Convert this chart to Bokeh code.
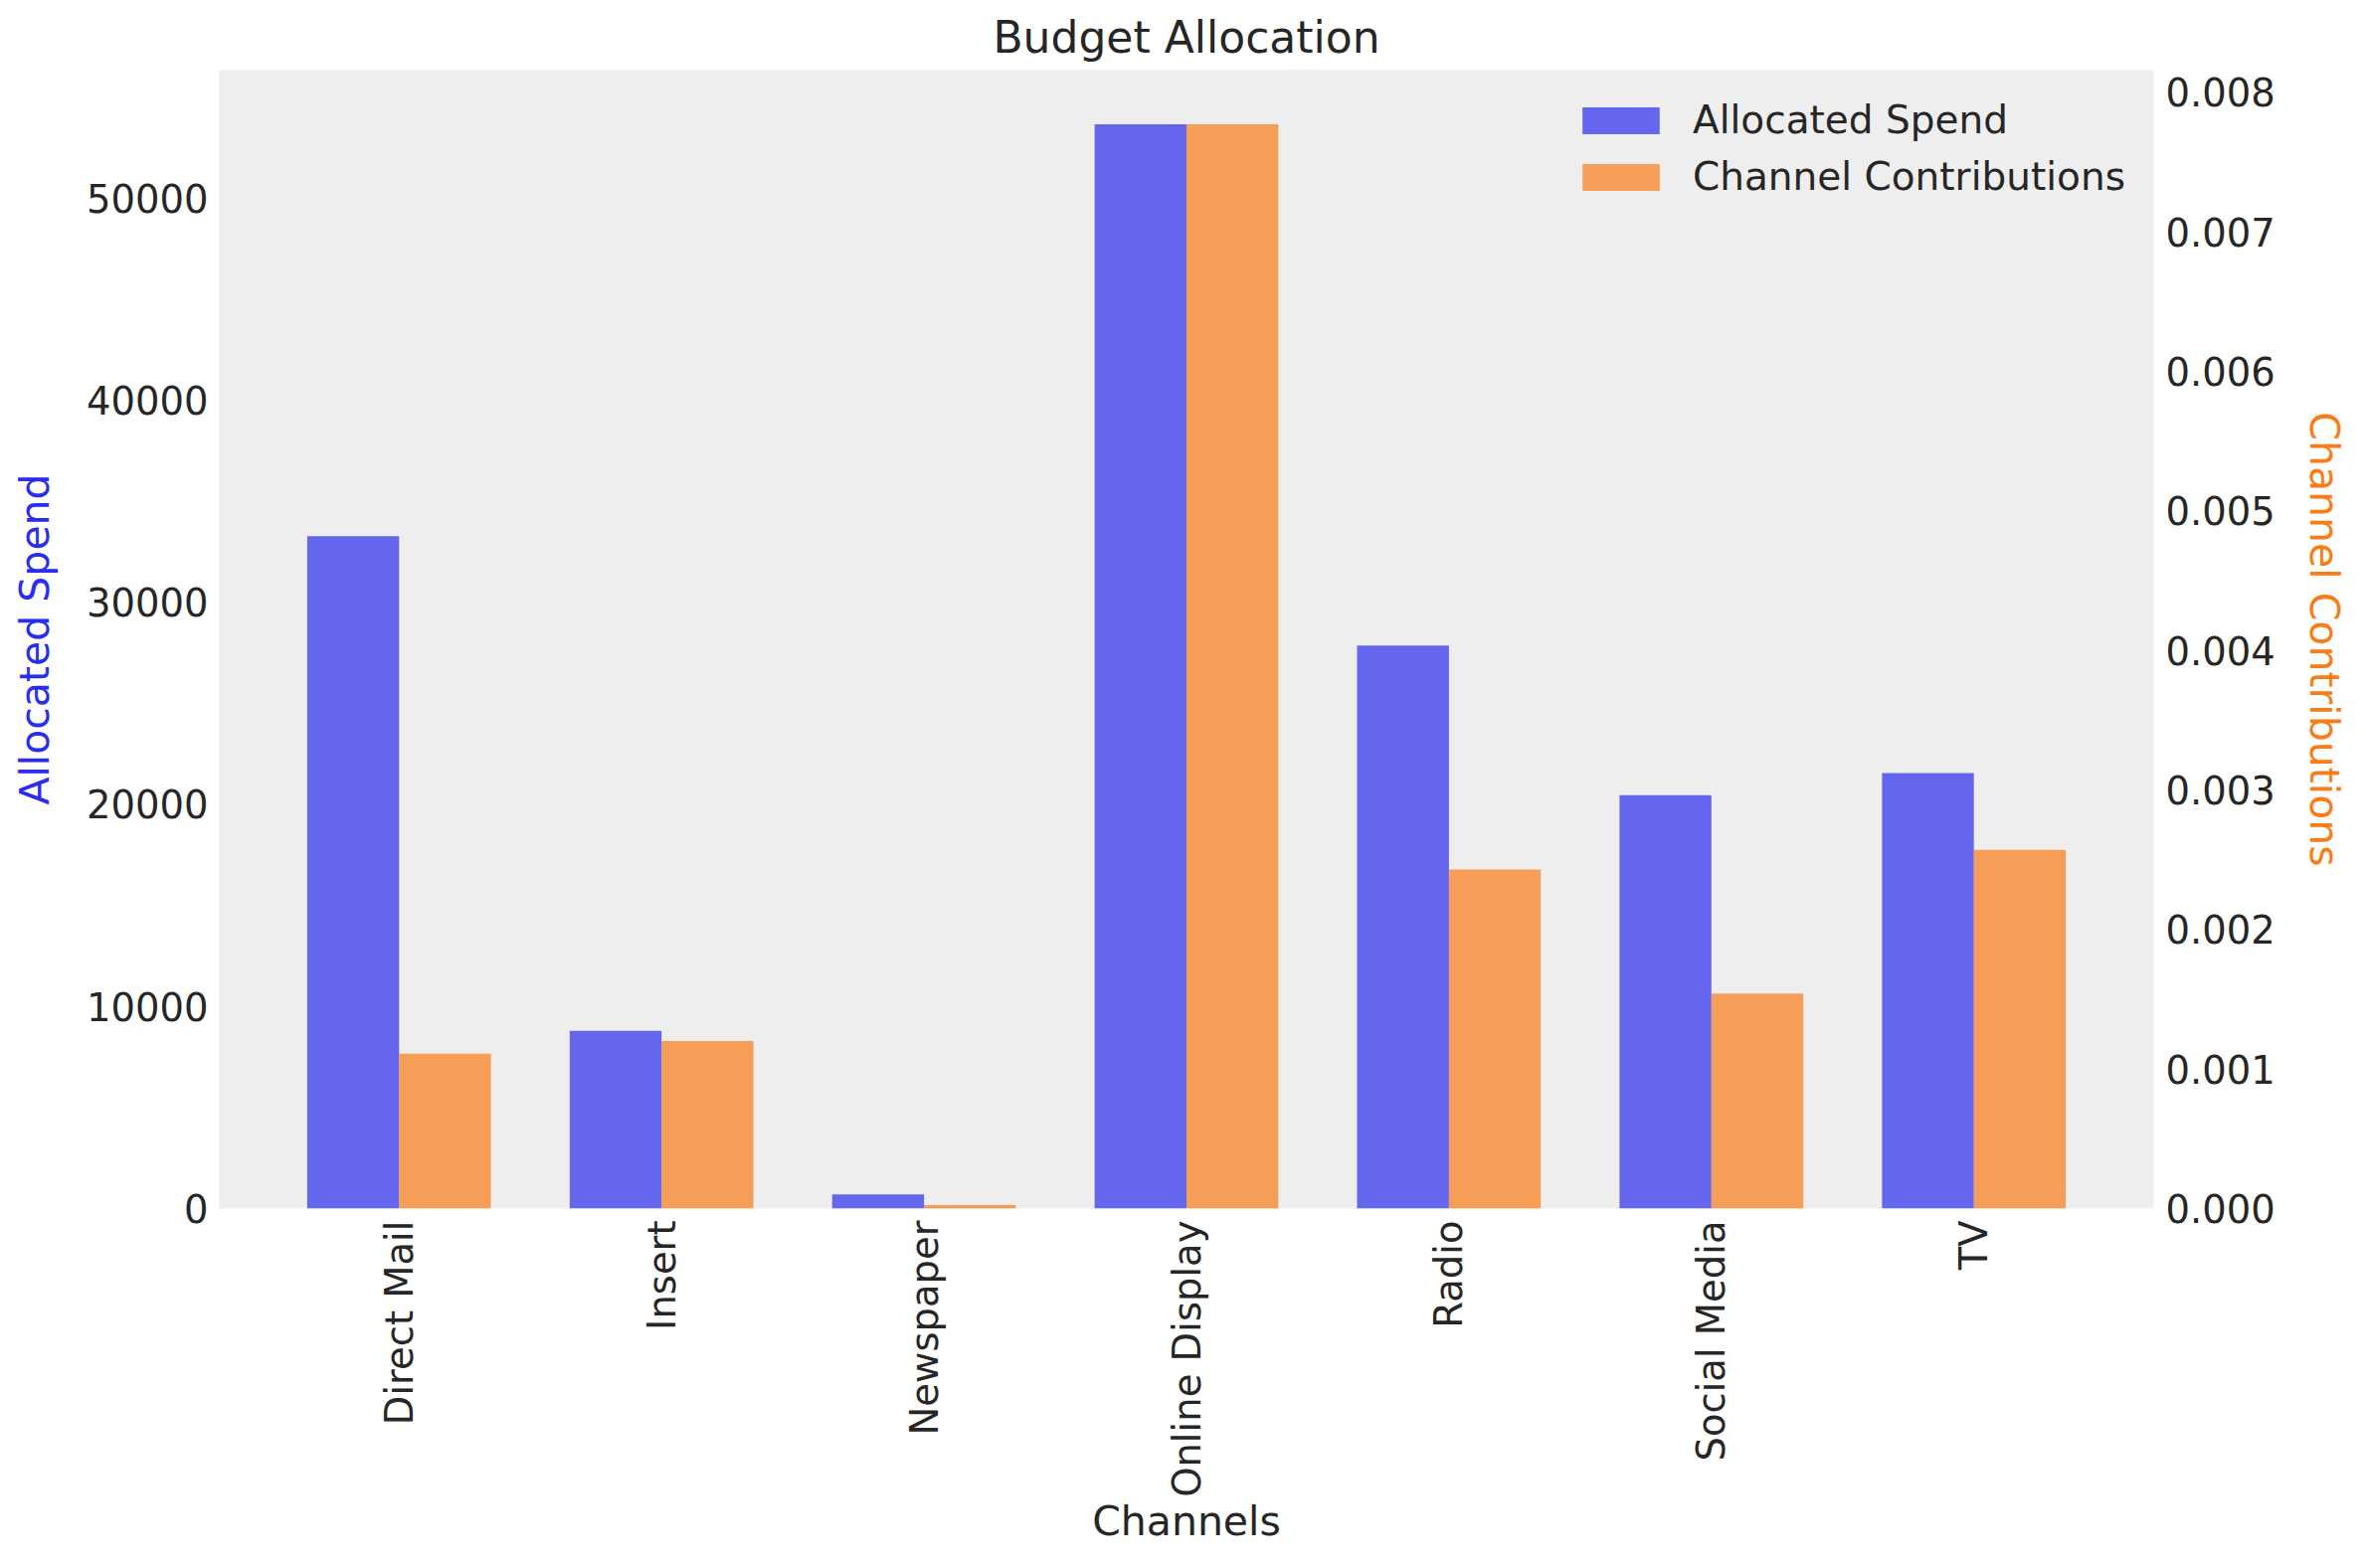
import math
from bokeh.plotting import figure
from bokeh.models import (Range1d, LinearAxis, FixedTicker, NumeralTickFormatter,
                          ColumnDataSource, Legend, LegendItem)
from bokeh.transform import dodge
from bokeh.embed import file_html
from bokeh.resources import INLINE

channels = ["Direct Mail", "Insert", "Newspaper", "Online Display", "Radio", "Social Media", "TV"]
allocated_spend = [33270, 8800, 700, 53650, 27860, 20450, 21550]
channel_contributions = [0.00111, 0.00120, 0.000025, 0.00777, 0.00243, 0.00154, 0.00257]
left_ticks = [0, 10000, 20000, 30000, 40000, 50000]
right_ticks = [0.0, 0.001, 0.002, 0.003, 0.004, 0.005, 0.006, 0.007, 0.008]

FONT = "DejaVu Sans"
TXT = "#262626"
BLUE = "#2a2eec"
ORANGE = "#fa7c17"
bar_w = 0.35

xs = list(range(len(channels)))
src = ColumnDataSource(dict(x=xs, spend=allocated_spend, contrib=channel_contributions))

n = len(channels)
W, H = 2363, 1561
BL, BT, FW, FH = 220, 70, 1950, 1145
p = figure(width=W, height=H, output_backend="svg", toolbar_location=None,
           x_range=Range1d(-bar_w - 0.335, (n - 1) + bar_w + 0.335),
           y_range=Range1d(0, max(allocated_spend) * 1.05),
           min_border_left=BL, min_border_right=W - BL - FW,
           min_border_top=BT, min_border_bottom=H - BT - FH)
p.extra_y_ranges = {"contrib": Range1d(0, max(channel_contributions) * 1.05)}

p.background_fill_color = "#eeeeee"
p.border_fill_color = "white"
p.outline_line_color = None
p.xgrid.visible = False
p.ygrid.visible = False

p.title.text = "Budget Allocation"
p.title.text_font = FONT
p.title.text_font_size = "44px"
p.title.text_font_style = "normal"
p.title.text_color = TXT
p.title.align = "center"
p.title.standoff = 16

r1 = p.vbar(x=dodge("x", -bar_w / 2), top="spend", width=bar_w, source=src,
            fill_color=BLUE, fill_alpha=0.7, line_color=None)
r2 = p.vbar(x=dodge("x", bar_w / 2), top="contrib", width=bar_w, source=src,
            fill_color=ORANGE, fill_alpha=0.7, line_color=None, y_range_name="contrib")

def style_axis(ax, standoff):
    ax.axis_line_color = None
    ax.major_tick_line_color = None
    ax.minor_tick_line_color = None
    ax.major_tick_out = 0
    ax.major_tick_in = 0
    ax.minor_tick_out = 0
    ax.major_label_text_font = FONT
    ax.major_label_text_font_size = "38.5px"
    ax.major_label_text_color = TXT
    ax.major_label_standoff = standoff
    ax.axis_label_text_font = FONT
    ax.axis_label_text_font_size = "41px"
    ax.axis_label_text_font_style = "normal"

xa = p.xaxis[0]
style_axis(xa, 12)
xa.ticker = FixedTicker(ticks=xs)
xa.major_label_overrides = {i: c for i, c in zip(xs, channels)}
xa.major_label_orientation = math.pi / 2
xa.axis_label = "Channels"
xa.axis_label_text_color = TXT
xa.axis_label_standoff = -3

ya = p.yaxis[0]
style_axis(ya, 11)
ya.ticker = FixedTicker(ticks=left_ticks)
ya.axis_label = "Allocated Spend"
ya.axis_label_text_color = BLUE
ya.axis_label_standoff = 25

ra = LinearAxis(y_range_name="contrib")
style_axis(ra, 12)
ra.ticker = FixedTicker(ticks=right_ticks)
ra.formatter = NumeralTickFormatter(format="0.000")
ra.axis_label = "Channel Contributions"
ra.axis_label_text_color = ORANGE
ra.axis_label_standoff = 22
p.add_layout(ra, "right")

legend = Legend(items=[LegendItem(label="Allocated Spend", renderers=[r1]),
                       LegendItem(label="Channel Contributions", renderers=[r2])],
                location="top_right")
legend.background_fill_alpha = 0
legend.border_line_alpha = 0
legend.label_text_font = FONT
legend.label_text_font_size = "39px"
legend.label_text_color = TXT
legend.glyph_width = 97
legend.glyph_height = 34
legend.label_standoff = 24
legend.label_width = 435
legend.spacing = 12
legend.padding = 0
legend.margin = 28
p.add_layout(legend)

open("out.html", "w").write(file_html(p, INLINE))
